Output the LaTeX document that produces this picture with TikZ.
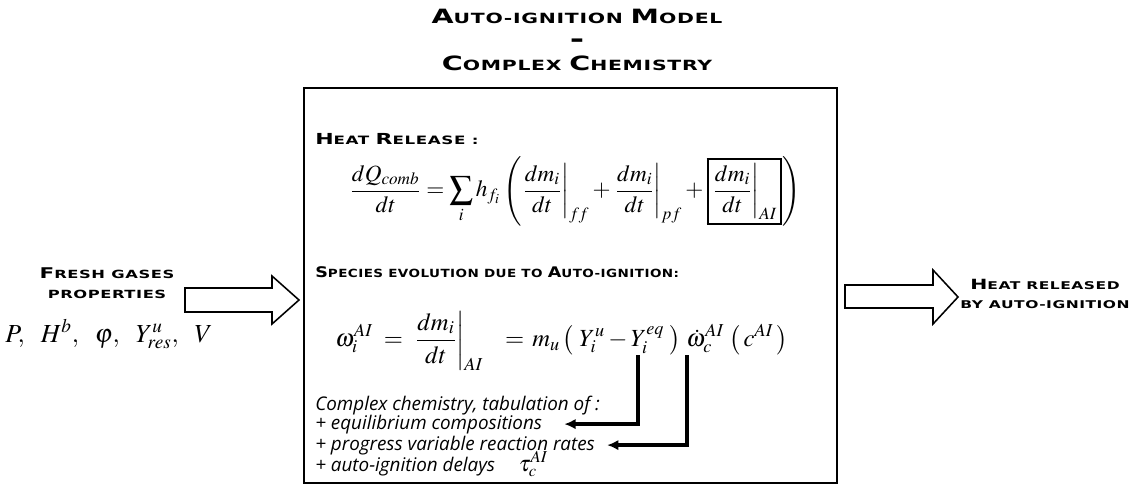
\documentclass[tikz,border=0pt]{standalone}
\usepackage{mathptmx}
\usepackage[no-math]{fontspec}
\setmainfont{Liberation Serif}
\newfontfamily\hdrfont[FakeStretch=1.45,LetterSpace=5,BoldFont={DejaVu Sans Bold}]{DejaVu Sans}
\newfontfamily\hdrnarrow[FakeStretch=1.2,LetterSpace=4,BoldFont={DejaVu Sans Bold}]{DejaVu Sans}
\newfontfamily\notefont{Open Sans}
\usetikzlibrary{arrows.meta}

% large initial letter of the fake small caps
\newcommand{\hc}[2]{{\fontsize{#1}{#1}\selectfont #2}}

\tikzset{
  hdr/.style={font=\hdrfont\bfseries, inner sep=0pt},
  note/.style={font=\notefont\itshape\fontsize{13.4}{15}\selectfont, inner sep=0pt},
  eqn/.style={font=\fontsize{16.5}{19}\selectfont, inner sep=0pt},
  frame/.style={line width=2pt},
  blockarrow/.style={line width=1.1pt, line join=miter},
  conn/.style={line width=2.6pt, -{Latex[length=8pt,width=7.5pt]}}
}

\begin{document}
\begin{tikzpicture}[x=0.025cm, y=-0.025cm]
  \useasboundingbox (0,0) rectangle (1137,485);

  % title
  \node[hdr, align=center, font=\hdrfont\bfseries\fontsize{10}{16.7}\selectfont] (title) at (577,40)
    {\hc{14}{A}UTO-IGNITION \hc{14}{M}ODEL\\ \hc{17}{-}\\ \hc{14}{C}OMPLEX \hc{14}{C}HEMISTRY};

  % model frame
  \draw[frame] (304,88) rectangle (837,483);

  % heat release
  \node[hdr, anchor=base west, font=\hdrfont\bfseries\fontsize{8.2}{9}\selectfont] (heathdr) at (315,145)
    {\hc{10.8}{H}EAT \hc{10.8}{R}ELEASE :};
  \node[eqn, anchor=west] (heateq) at (350,191)
    {$\displaystyle \frac{dQ_{comb}}{dt} = \sum_i h_{f_i} \left( \left.\frac{dm_i}{dt}\right|_{ff} + \left.\frac{dm_i}{dt}\right|_{pf} + \setlength{\fboxrule}{1.6pt}\setlength{\fboxsep}{2pt}\fbox{$\displaystyle \left.\frac{dm_i}{dt}\right|_{AI}$} \right)$};

  % species evolution
  \node[hdr, anchor=base west, font=\hdrnarrow\bfseries\fontsize{8}{9}\selectfont] (spchdr) at (315,277)
    {\hc{10.4}{S}PECIES EVOLUTION DUE TO \hc{10.4}{A}UTO-IGNITION:};
  \node[eqn, anchor=west, font=\fontsize{17.5}{20}\selectfont] (aieq) at (335,341)
    {$\displaystyle \omega_i^{AI}\; =\; \left.\frac{dm_i}{dt}\right|_{AI}\;\;\; =\, m_u \left(\; Y_i^u - Y_i^{eq}\;\right)\, \dot{\omega}_c^{AI}\, \left(\, c^{AI}\,\right)$};

  % tabulation
  \node[note, anchor=base west] (tab) at (315,410) {Complex chemistry, tabulation of :};
  \node[note, anchor=base west] (lineq) at (315,429) {+ equilibrium compositions};
  \node[note, anchor=base west] (linprog) at (315,450) {+ progress variable reaction rates};
  \node[note, anchor=base west] (linauto) at (315,471)
    {+ auto-ignition delays \quad{\fontsize{16}{16}\selectfont$\tau_c^{AI}$}};

  \coordinate (yeq) at (638,355);
  \coordinate (wdot) at (687,355);
  \draw[conn] (yeq) |- ([xshift=0.55cm]lineq.east);
  \draw[conn] (wdot) |- ([xshift=0.3cm]linprog.east);

  % inputs
  \node[hdr, align=center, font=\hdrfont\bfseries\fontsize{8}{14.5}\selectfont] (fresh) at (107,283)
    {\hc{10.5}{F}RESH GASES\\ PROPERTIES};
  \node[eqn, font=\fontsize{18.5}{21}\selectfont] (props) at (109,334)
    {$P,\enskip H^b,\enskip \varphi,\enskip Y_{res}^u,\enskip V$};
  \draw[blockarrow] (185,288) -- (272,288) -- (272,276) -- (299,300)
    -- (272,324) -- (272,312) -- (185,312) -- cycle;

  % output
  \draw[blockarrow] (845,285) -- (933,285) -- (933,270) -- (958,297)
    -- (933,324) -- (933,308) -- (845,308) -- cycle;
  \node[hdr, align=center, font=\hdrfont\bfseries\fontsize{7.6}{13}\selectfont] (released) at (1045,294)
    {\hc{10}{H}EAT RELEASED\\ BY AUTO-IGNITION};
\end{tikzpicture}
\end{document}
